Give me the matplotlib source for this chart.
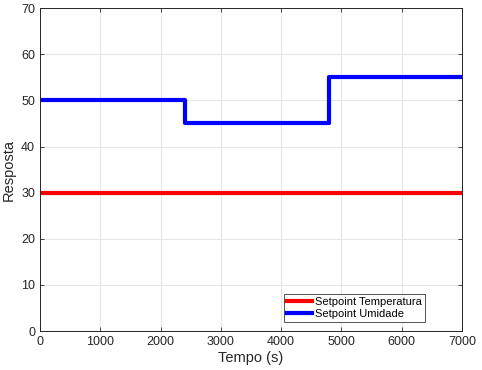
import matplotlib
matplotlib.use("Agg")
import matplotlib.pyplot as plt

plt.rcParams['font.family'] = ['Liberation Sans', 'DejaVu Sans']

# Data
temp_t = [0, 7000]
temp_sp = [30, 30]
umid_t = [0, 2400, 2400, 4800, 4800, 7000]
umid_sp = [50, 50, 45, 45, 55, 55]

xticks = [0, 1000, 2000, 3000, 4000, 5000, 6000, 7000]
yticks = [0, 10, 20, 30, 40, 50, 60, 70]

fig = plt.figure(figsize=(4.82, 3.70), dpi=100)
ax = fig.add_axes([0.083, 0.1054, 0.8755, 0.8726])

ax.plot(temp_t, temp_sp, color='#ff0000', lw=3, label='Setpoint Temperatura')
ax.plot(umid_t, umid_sp, color='#0000ff', lw=3, label='Setpoint Umidade')

ax.set_xlim(0, 7000)
ax.set_ylim(0, 70)
ax.set_xticks(xticks)
ax.set_yticks(yticks)
ax.grid(True, color='#e6e6e6', lw=0.8)
ax.set_axisbelow(True)
ax.tick_params(direction='in', top=True, right=True, labelsize=9, colors='#262626', length=3, width=0.6)
for s in ax.spines.values():
    s.set_color('#262626')
    s.set_linewidth(0.7)

ax.set_xlabel('Tempo (s)', fontsize=10.5, color='#262626', labelpad=2)
ax.set_ylabel('Resposta', fontsize=10.5, color='#262626', labelpad=4)

leg = ax.legend(loc='lower right', bbox_to_anchor=(0.918, 0.02), fontsize=8,
                frameon=True, fancybox=False, edgecolor='#262626', handlelength=2.2,
                borderpad=0.3, labelspacing=0.15, handletextpad=0.3, borderaxespad=0.2)
leg.get_frame().set_linewidth(0.7)

fig.savefig('out.png', dpi=100)
